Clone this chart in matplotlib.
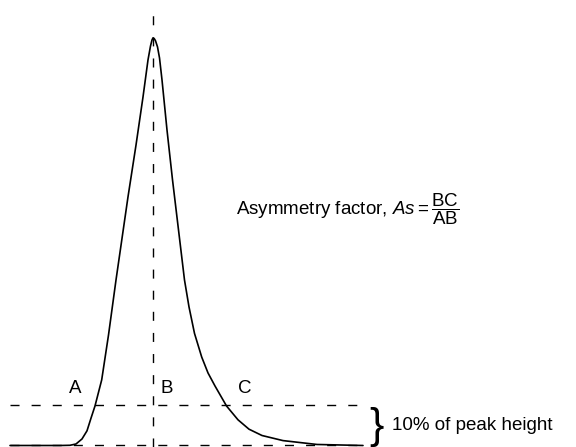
import numpy as np
import matplotlib
matplotlib.use("Agg")
import matplotlib.pyplot as plt

plt.rcParams['font.family'] = ['Liberation Sans', 'DejaVu Sans']
plt.rcParams['mathtext.fontset'] = 'custom'
plt.rcParams['mathtext.rm'] = 'Liberation Sans'
plt.rcParams['mathtext.it'] = 'Liberation Sans:italic'
plt.rcParams['lines.scale_dashes'] = False

# peak profile (time in arbitrary units, signal in % of peak height)
time = [10, 60, 70, 76, 82, 87, 91, 95, 101.7, 108.5, 116, 128, 136, 143, 148,
        150.5, 152, 153,
        154.3, 155.5, 157.5, 159.5, 162, 167, 172.5, 178.5, 184.5, 189, 194.5,
        201.7, 208, 215, 226.5, 238, 249, 262, 283, 317, 363]
signal = [0, 0, 0.05, 0.37, 1.6, 3.6, 6.7, 9.7, 16.1, 27.1, 40.6, 61.0, 73.7,
          85.5, 94.6, 98.0, 99.5, 100,
          99.8, 99.3, 97.8, 95.1, 89.7, 77.4, 65.2, 52.9, 40.6, 34.0, 27.5,
          21.7, 17.8, 14.6, 9.7, 6.3, 4.0, 2.45, 1.2, 0.25, 0]

peak_time = 153
peak_height = 100
ten_pct = 0.1 * peak_height
line_start = 10
line_end = 363

labels = ['A', 'B', 'C']
label_x = [75, 167, 245]

fig = plt.figure(figsize=(5.76, 4.47), dpi=100)
ax = fig.add_axes([0, 0, 1, 1])
ax.set_xlim(0, 576)
ax.set_ylim(-0.37, 109.3)
ax.axis('off')

dash = (0, (6.5, 8.7))

# baseline and 10% line
ax.plot([line_start, line_end], [0, 0], color='black', lw=1.0, linestyle=dash)
ax.plot([line_start, line_end], [ten_pct, ten_pct], color='black', lw=1.0, linestyle=dash)

# vertical line through the apex
ax.plot([peak_time, peak_time], [-0.37, 106.4], color='black', lw=1.0, linestyle=dash)

# the peak
ax.plot(time, signal, color='black', lw=1.2, solid_capstyle='round',
        solid_joinstyle='round')

# A, B, C labels
for lab, x in zip(labels, label_x):
    ax.text(x, 14.1, lab, fontsize=13.5, ha='center', va='center')

# brace and note
ax.text(377, 4.6, '}', fontsize=31, ha='center', va='center', fontweight='light')
ax.text(392, 5.0, '10% of peak height', fontsize=13.5, ha='left', va='center')

ax.text(236, 56.6, r'Asymmetry factor, $\mathit{As} = \dfrac{\mathrm{BC}}{\mathrm{AB}}$',
        fontsize=13.5, ha='left', va='baseline')

fig.savefig('out.png', dpi=100)
